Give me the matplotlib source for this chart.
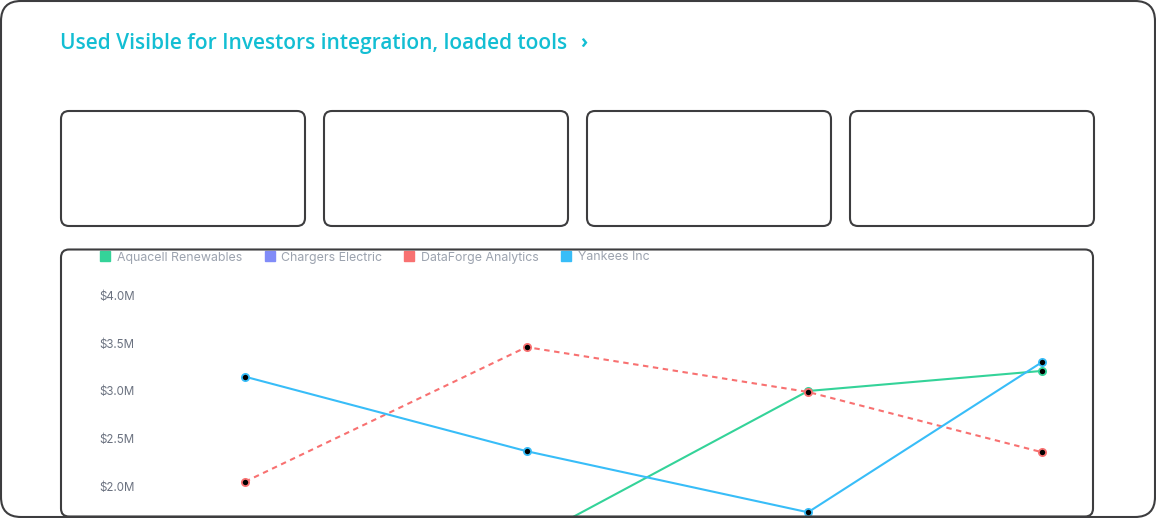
"""
Dashboard card: Visible for Investors integration, portfolio value by company.
Four empty stat tiles above a line chart that is cut off at the bottom.
Output: out.png (1156x518)
"""
import matplotlib
matplotlib.use("Agg")
import matplotlib.pyplot as plt
from matplotlib.patches import FancyBboxPatch
from matplotlib.lines import Line2D
from matplotlib.ticker import FuncFormatter

# ── Data ──────────────────────────────────────────────────────────────────────

periods = [0.0, 1.0, 2.0, 2.83]          # x positions of the four data points
aquacell = [1.15, 1.42, 3.00, 3.21]      # $M
chargers = [1.20, 1.35, 1.50, 1.10]      # $M (below the visible window)
dataforge = [2.05, 3.46, 2.99, 2.36]     # $M
yankees = [3.15, 2.37, 1.73, 3.30]       # $M

series_names = ["Aquacell Renewables", "Chargers Electric", "DataForge Analytics", "Yankees Inc"]
series_colors = ["#34d399", "#818cf8", "#f87171", "#38bdf8"]
y_ticks = [2.0, 2.5, 3.0, 3.5, 4.0]
title = "Used Visible for Investors integration, loaded tools"

# ── Layout (pixels) ───────────────────────────────────────────────────────────

W, H = 1156, 518
DPI = 100
BORDER = "#3d3d3f"
TEAL = "#13bed3"

# data → pixel mapping
X0_PX, X_STEP = 245.0, 281.5
Y4_PX, Y_STEP = 295.5, 95.5          # pixel of $4.0M, pixels per $1M

AX_L, AX_R, AX_T, AX_B = 140, 1091, 268, 516

fig = plt.figure(figsize=(W / DPI, H / DPI), dpi=DPI)
fig.patch.set_facecolor("white")

# ── Chart ─────────────────────────────────────────────────────────────────────

ax = fig.add_axes([AX_L / W, 1 - AX_B / H, (AX_R - AX_L) / W, (AX_B - AX_T) / H], zorder=1)
ax.set_facecolor("none")
ax.set_xlim((AX_L - X0_PX) / X_STEP, (AX_R - X0_PX) / X_STEP)
ax.set_ylim(4.0 - (AX_B - Y4_PX) / Y_STEP, 4.0 + (Y4_PX - AX_T) / Y_STEP)

all_series = [aquacell, chargers, dataforge, yankees]
for name, vals, col in zip(series_names, all_series, series_colors):
    ls = (0, (2.6, 2.2)) if name == "DataForge Analytics" else "-"
    ax.plot(periods, vals, color=col, lw=1.5, ls=ls,
            marker="o", ms=5.2, mfc="black", mec=col, mew=1.3)

ax.set_yticks(y_ticks)
ax.yaxis.set_major_formatter(FuncFormatter(lambda v, _: f"${v:.1f}M"))
ax.tick_params(axis="y", length=0, pad=3.8, labelsize=8.3, labelcolor="#6b7280")
ax.set_xticks([])
for lab in ax.get_yticklabels():
    lab.set_fontfamily("Inter")
for s in ax.spines.values():
    s.set_visible(False)

# ── Frames & title overlay (pixel coords) ─────────────────────────────────────

bg = fig.add_axes([0, 0, 1, 1], zorder=3)
bg.set_facecolor("none")
bg.set_xlim(0, W)
bg.set_ylim(H, 0)
bg.axis("off")


def frame(x, y, w, h, r):
    bg.add_patch(FancyBboxPatch((x, y), w, h,
                                boxstyle=f"round,pad=0,rounding_size={r}",
                                fc="none", ec=BORDER, lw=1.5))


frame(1, 1, 1154, 516, 20)
for x in [61, 324, 587, 850]:
    frame(x, 111, 244, 115, 8)
frame(61, 249.5, 1032, 267, 8)

bg.text(60, 44, title, color=TEAL, fontsize=15, fontfamily="Open Sans",
        fontweight="semibold", va="center", ha="left")
bg.text(580, 44, "›", color=TEAL, fontsize=14, fontfamily="Open Sans",
        fontweight="bold", va="center", ha="left")

# legend, anchored at its left edge in pixel space
handles = [Line2D([], [], ls="none", marker="s", ms=6.5, mfc=c, mec=c)
           for c in series_colors]
leg = ax.legend(handles, series_names, ncol=4, loc="center left",
                bbox_to_anchor=(100.5, 257.5), bbox_transform=bg.transData,
                frameon=False, borderpad=0, borderaxespad=0,
                handlelength=0.78, handletextpad=0.55, columnspacing=1.82,
                prop={"family": "Inter", "size": 8.9})
for t in leg.get_texts():
    t.set_color("#9ca3af")

fig.savefig("out.png", dpi=DPI)
